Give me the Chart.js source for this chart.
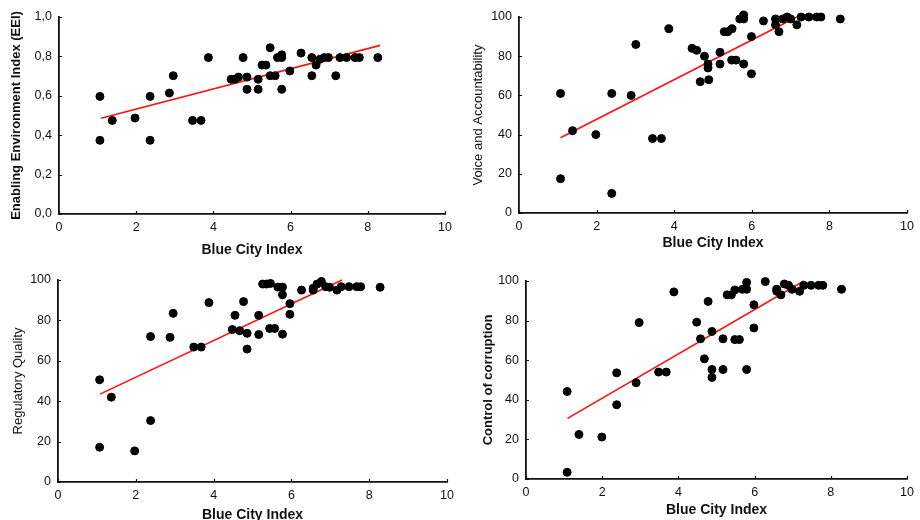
<!DOCTYPE html>
<html>
<head>
<meta charset="utf-8">
<script src="https://cdn.jsdelivr.net/npm/chart.js@4.4.0/dist/chart.umd.min.js"></script>
<style>
  html, body { margin: 0; padding: 0; background: #fff; overflow: hidden; }
  body { width: 920px; height: 520px; position: relative; }
  .panel { position: absolute; }
</style>
</head>
<body>
<div class="panel" style="left:0;top:0;width:460px;height:260px"><canvas id="c1"></canvas></div>
<div class="panel" style="left:460px;top:0;width:460px;height:260px"><canvas id="c2"></canvas></div>
<div class="panel" style="left:0;top:260px;width:460px;height:270px"><canvas id="c3"></canvas></div>
<div class="panel" style="left:460px;top:260px;width:460px;height:270px"><canvas id="c4"></canvas></div>
<script>
// Blue City Index values (x) and indicators (y)
const bciEEI = [1.06, 1.06, 1.38, 1.97, 2.36, 2.36, 2.86, 2.96, 3.46, 3.68, 3.87, 4.46, 4.56, 4.65, 4.77, 4.87, 4.87, 5.16, 5.16, 5.26, 5.36, 5.47, 5.47, 5.6, 5.66, 5.77, 5.77, 5.77, 5.98, 6.27, 6.55, 6.55, 6.66, 6.76, 6.87, 6.98, 7.17, 7.28, 7.45, 7.67, 7.78, 8.26];
const eei = [0.597, 0.374, 0.475, 0.487, 0.597, 0.374, 0.614, 0.702, 0.475, 0.475, 0.794, 0.684, 0.684, 0.695, 0.794, 0.695, 0.633, 0.684, 0.633, 0.756, 0.756, 0.844, 0.702, 0.702, 0.794, 0.808, 0.794, 0.633, 0.726, 0.817, 0.794, 0.702, 0.756, 0.785, 0.794, 0.794, 0.702, 0.794, 0.794, 0.794, 0.794, 0.794];

const bciVA = [1.07, 1.07, 1.38, 1.98, 2.39, 2.39, 2.89, 3.01, 3.44, 3.67, 3.86, 4.46, 4.58, 4.67, 4.78, 4.87, 4.87, 4.89, 5.18, 5.18, 5.29, 5.38, 5.49, 5.48, 5.59, 5.69, 5.79, 5.79, 5.79, 5.99, 5.99, 6.3, 6.61, 6.61, 6.7, 6.8, 6.91, 7.0, 7.16, 7.27, 7.47, 7.67, 7.78, 8.28];
const voice = [61, 17.5, 42, 40, 61, 10, 60, 86, 38, 38, 94, 84, 83, 67, 80, 76, 74, 68, 82, 76, 92.5, 92.5, 94, 78, 78, 99, 101, 99, 76, 90, 71, 98, 99, 96, 92.5, 99, 100, 99, 96, 100, 100, 100, 100, 99];

const bciRQ = [1.07, 1.07, 1.37, 1.97, 2.38, 2.38, 2.88, 2.96, 3.49, 3.68, 3.88, 4.48, 4.55, 4.67, 4.77, 4.86, 4.86, 5.16, 5.16, 5.26, 5.36, 5.46, 5.44, 5.57, 5.65, 5.77, 5.77, 5.77, 5.96, 5.96, 6.26, 6.56, 6.56, 6.66, 6.77, 6.88, 6.98, 7.17, 7.28, 7.48, 7.68, 7.78, 8.28];
const regQuality = [50.6, 17.2, 42, 15.4, 72, 30.4, 71.6, 83.5, 66.8, 66.8, 88.8, 75.5, 82.5, 74.9, 89.3, 73.6, 65.8, 73, 82.5, 98, 98, 98.3, 76, 76, 96.5, 96.5, 92.7, 73.2, 88.3, 83, 95, 95.9, 95, 98, 99.3, 96.7, 96.4, 95, 96.7, 96.7, 96.7, 96.7, 96.4];

const bciCC = [1.08, 1.08, 1.39, 1.99, 2.38, 2.38, 2.89, 2.97, 3.48, 3.68, 3.88, 4.48, 4.58, 4.68, 4.78, 4.88, 4.88, 4.88, 5.17, 5.17, 5.28, 5.39, 5.48, 5.48, 5.6, 5.68, 5.79, 5.79, 5.79, 5.98, 5.98, 6.28, 6.58, 6.58, 6.69, 6.78, 6.89, 6.98, 7.18, 7.29, 7.48, 7.68, 7.79, 8.28];
const corruption = [44.2, 3.4, 22.5, 21.2, 53.6, 37.5, 48.6, 79, 54, 54, 94.5, 79.2, 70.8, 60.7, 89.7, 74.5, 55.3, 51.3, 70.8, 55.3, 93, 93, 95.5, 70.4, 70.4, 95.8, 99.3, 95.8, 55.3, 88, 76.3, 99.7, 95.8, 94.8, 93, 98.5, 97.8, 95.8, 94.8, 97.8, 97.8, 97.8, 97.8, 95.8];

// fitted trend lines: [x start, x end], [y start, y end]
const fitEEIx = [1.09, 8.32], fitEEIy = [0.486, 0.856];
const fitVAx = [1.07, 7.16], fitVAy = [38.4, 100];
const fitRQx = [1.08, 7.3], fitRQy = [43.5, 100];
const fitCCx = [1.09, 7.29], fitCCy = [30.6, 100];

const xTitle = 'Blue City Index';

function pts(xs, ys) {
    return xs.map((x, i) => ({ x: x, y: ys[i] }));
}

// short inward tick marks, like the original figure
const innerTicks = {
    id: 'innerTicks',
    afterDraw(chart) {
        const ctx = chart.ctx;
        const { x, y } = chart.scales;
        ctx.save();
        ctx.strokeStyle = '#111';
        ctx.lineWidth = 1.2;
        ctx.beginPath();
        x.ticks.forEach(t => {
            const px = Math.round(x.getPixelForValue(t.value)) + 0.5;
            ctx.moveTo(px, y.bottom);
            ctx.lineTo(px, y.bottom - 3);
        });
        y.ticks.forEach(t => {
            const py = Math.round(y.getPixelForValue(t.value)) + 0.5;
            ctx.moveTo(x.left, py);
            ctx.lineTo(x.left + 3, py);
        });
        ctx.stroke();
        ctx.restore();
    }
};

function makeChart(id, p) {
    const titleLH = p.yFont.size * 1.2;
    const xLH = 14 * 1.2;
    const pad = {
        left: p.yTitleX - titleLH / 2,
        top: p.area.t,
        right: p.w - p.area.r,
        bottom: p.h - (p.xTitleY + xLH / 2)
    };
    const yWidth = p.area.l - pad.left;
    const xHeight = p.h - pad.bottom - p.area.b;

    return new Chart(document.getElementById(id), {
        type: 'scatter',
        data: {
            datasets: [
                {
                    data: pts(p.xs, p.ys),
                    backgroundColor: '#000',
                    borderColor: '#000',
                    pointRadius: 4,
                    clip: false
                },
                {
                    type: 'line',
                    data: pts(p.fx, p.fy),
                    borderColor: '#ff1010',
                    borderWidth: 1.6,
                    pointRadius: 0,
                    fill: false,
                    clip: false
                }
            ]
        },
        plugins: [innerTicks],
        options: {
            responsive: true,
            maintainAspectRatio: false,
            animation: false,
            layout: { padding: pad },
            plugins: { legend: { display: false }, tooltip: { enabled: false } },
            scales: {
                x: {
                    type: 'linear',
                    min: 0, max: 10,
                    afterFit: s => { s.height = xHeight; },
                    ticks: { stepSize: 2, padding: 6, color: '#111', font: { family: 'Liberation Sans', size: 12.5 } },
                    grid: { display: true, drawOnChartArea: false, drawTicks: false, tickLength: 0 },
                    border: { color: '#111', width: 1.8 },
                    title: {
                        display: true, text: xTitle, color: '#111', padding: 0,
                        font: { family: 'Liberation Sans', size: 14, weight: 'bold' }
                    }
                },
                y: {
                    min: p.yMin, max: p.yMax,
                    afterFit: s => { s.width = yWidth; },
                    ticks: {
                        stepSize: p.yStep, padding: 7, color: '#111',
                        font: { family: 'Liberation Sans', size: 12.5 },
                        callback: p.fmt
                    },
                    grid: { display: true, drawOnChartArea: false, drawTicks: false, tickLength: 0 },
                    border: { color: '#111', width: 1.8 },
                    title: {
                        display: true, text: p.yTitle, color: '#111', padding: 0,
                        font: { family: 'Liberation Sans', size: p.yFont.size, weight: p.yFont.weight }
                    }
                }
            }
        }
    });
}

const commaFmt = v => v.toFixed(1).replace('.', ',');
const intFmt = v => String(v);

makeChart('c1', {
    w: 460, h: 260, area: { l: 59, t: 17, r: 445, b: 214 },
    yTitleX: 16, xTitleY: 250,
    xs: bciEEI, ys: eei, fx: fitEEIx, fy: fitEEIy,
    yMin: 0, yMax: 1, yStep: 0.2, fmt: commaFmt,
    yTitle: 'Enabling Environment Index (EEI)', yFont: { size: 13, weight: 'bold' }
});
makeChart('c2', {
    w: 460, h: 260, area: { l: 59, t: 17, r: 450, b: 213 },
    yTitleX: 18, xTitleY: 243,
    xs: bciVA, ys: voice, fx: fitVAx, fy: fitVAy,
    yMin: 0, yMax: 100, yStep: 20, fmt: intFmt,
    yTitle: 'Voice and Accountability', yFont: { size: 13, weight: 'normal' }
});
makeChart('c3', {
    w: 460, h: 270, area: { l: 58, t: 20, r: 451, b: 222 },
    yTitleX: 18, xTitleY: 255,
    xs: bciRQ, ys: regQuality, fx: fitRQx, fy: fitRQy,
    yMin: 0, yMax: 100, yStep: 20, fmt: intFmt,
    yTitle: 'Regulatory Quality', yFont: { size: 13, weight: 'normal' }
});
makeChart('c4', {
    w: 460, h: 270, area: { l: 66, t: 21, r: 450, b: 219 },
    yTitleX: 28, xTitleY: 250,
    xs: bciCC, ys: corruption, fx: fitCCx, fy: fitCCy,
    yMin: 0, yMax: 100, yStep: 20, fmt: intFmt,
    yTitle: 'Control of corruption', yFont: { size: 13, weight: 'bold' }
});
</script>
</body>
</html>
